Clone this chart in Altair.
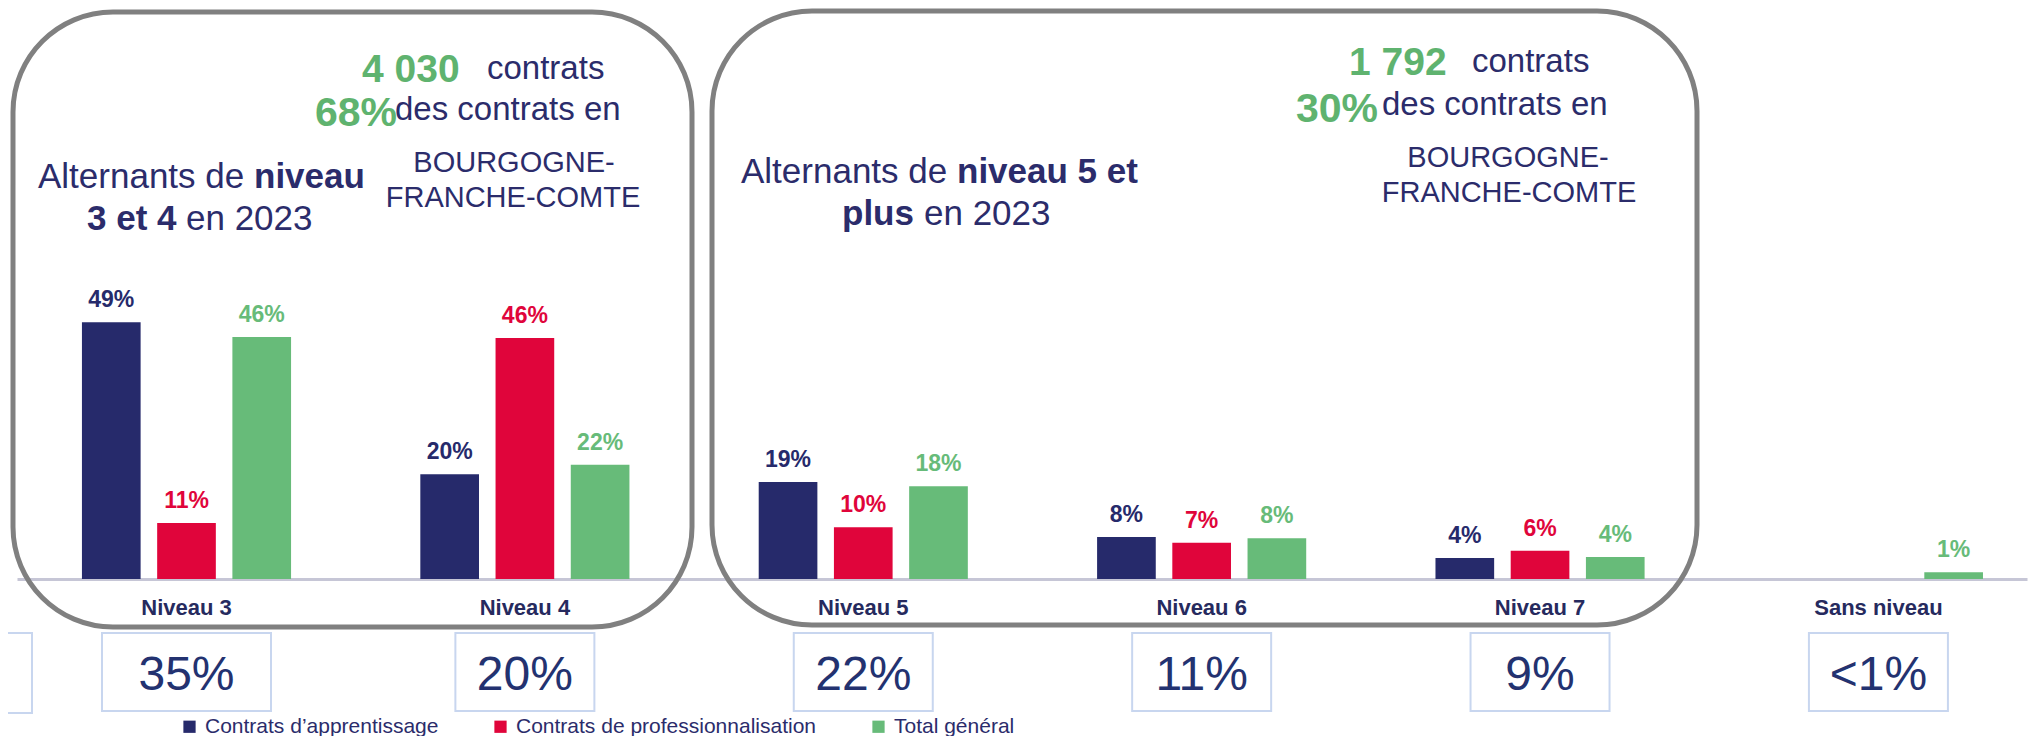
import altair as alt
import pandas as pd

# ---------------- data ----------------
categories = ["Niveau 3", "Niveau 4", "Niveau 5", "Niveau 6", "Niveau 7", "Sans niveau"]
series = ["Contrats d’apprentissage", "Contrats de professionnalisation", "Total général"]

apprentissage = [49.0, 20.0, 18.5, 8.0, 4.0, None]
professionnalisation = [10.7, 46.0, 9.9, 6.9, 5.4, None]
total_general = [46.2, 21.8, 17.7, 7.8, 4.2, 1.3]

labels_apprentissage = ["49%", "20%", "19%", "8%", "4%", ""]
labels_professionnalisation = ["11%", "46%", "10%", "7%", "6%", ""]
labels_total = ["46%", "22%", "18%", "8%", "4%", "1%"]

share_of_contracts = ["35%", "20%", "22%", "11%", "9%", "<1%"]

# ---------------- tables ----------------
rows = []
for s, vals, labs in zip(series,
                         [apprentissage, professionnalisation, total_general],
                         [labels_apprentissage, labels_professionnalisation, labels_total]):
    for c, v, l in zip(categories, vals, labs):
        rows.append({"cat": c, "series": s, "value": v, "label": l})
df = pd.DataFrame(rows)
share_df = pd.DataFrame({"cat": categories, "share": share_of_contracts})

# ---------------- styles ----------------
FONT = "Liberation Sans"
NAVY = "#2b2c6b"
GREEN_TXT = "#5fb36f"
bar_colors = ["#262a6b", "#e0053b", "#67bb79"]
W, H = 2010, 571

x_enc = alt.X(
    "cat:N", sort=categories,
    scale=alt.Scale(paddingInner=0.382, paddingOuter=0.161, align=0.596),
    axis=alt.Axis(title=None, labelAngle=0, ticks=False, tickSize=0, grid=False,
                  domainColor="#c6c6d6", domainWidth=3,
                  labelFont=FONT, labelFontSize=22, labelFontWeight="bold",
                  labelColor="#262a5e", labelPadding=18),
)
xoff_enc = alt.XOffset("series:N", sort=series,
                       scale=alt.Scale(domain=series, paddingInner=0.22, paddingOuter=0))
y_scale = alt.Scale(domain=[0, 109], nice=False, zero=True)
color_scale = alt.Scale(domain=series, range=bar_colors)

bars = alt.Chart(df).transform_filter("datum.value != null").mark_bar().encode(
    x=x_enc,
    xOffset=xoff_enc,
    y=alt.Y("value:Q", scale=y_scale, axis=None),
    color=alt.Color("series:N", sort=series, scale=color_scale,
                    legend=alt.Legend(title=None, orient="none", legendX=162, legendY=708,
                                      direction="horizontal", symbolType="square",
                                      symbolSize=150, symbolStrokeWidth=0,
                                      labelFont=FONT, labelFontSize=21, labelColor=NAVY,
                                      columnPadding=51, labelOffset=5, padding=0,
                                      labelLimit=0)),
)

value_labels = alt.Chart(df).transform_filter("datum.label != ''").mark_text(
    font=FONT, fontSize=23, fontWeight="bold", baseline="alphabetic", dy=-15
).encode(
    x=x_enc,
    xOffset=xoff_enc,
    y=alt.Y("value:Q", scale=y_scale, axis=None),
    text="label:N",
    color=alt.Color("series:N", sort=series, scale=color_scale, legend=None),
)

box_style = dict(fill="white", stroke="#c8d6ef", strokeWidth=2)
share_wide = alt.Chart(share_df).transform_filter(alt.datum.cat == "Niveau 3").mark_bar(
    width=169, **box_style).encode(x=x_enc, y=alt.value(625), y2=alt.value(703))
share_narrow = alt.Chart(share_df).transform_filter(alt.datum.cat != "Niveau 3").mark_bar(
    width=139, **box_style).encode(x=x_enc, y=alt.value(625), y2=alt.value(703))
share_text = alt.Chart(share_df).mark_text(
    font=FONT, fontSize=48, color="#233270", baseline="alphabetic"
).encode(x=x_enc, y=alt.value(682), text="share:N")

one = alt.Data(values=[{}])
partial_box = alt.Chart(one).mark_rect(**box_style).encode(
    x=alt.value(-60), x2=alt.value(15), y=alt.value(625), y2=alt.value(705))


def rbox(x1, x2, y1, y2):
    return alt.Chart(one).mark_rect(
        fill="white", fillOpacity=0, stroke="#808080", strokeWidth=5, cornerRadius=100
    ).encode(x=alt.value(x1), x2=alt.value(x2), y=alt.value(y1), y2=alt.value(y2))


def t(text, x, y, size, bold=False, color=NAVY, align="left"):
    return alt.Chart(one).mark_text(
        text=text, font=FONT, fontSize=size, fontWeight="bold" if bold else "normal",
        color=color, align=align, baseline="alphabetic"
    ).encode(x=alt.value(x), y=alt.value(y))


annotations = [
    # box 1
    t("4 030", 345, 74, 39, True, GREEN_TXT),
    t("contrats", 470, 71, 33),
    t("68%", 298, 118, 41, True, GREEN_TXT),
    t("des contrats en", 378, 112, 33),
    t("BOURGOGNE-", 497, 164, 29, align="center"),
    t("FRANCHE-COMTE", 496, 199, 29, align="center"),
    t("Alternants de", 21, 180, 35),
    t("niveau", 237, 180, 35, True),
    t("3 et 4", 70, 222, 35, True),
    t("en 2023", 169, 222, 35),
    # box 2
    t("1 792", 1332, 67, 39, True, GREEN_TXT),
    t("contrats", 1455, 64, 33),
    t("30%", 1279, 114, 41, True, GREEN_TXT),
    t("des contrats en", 1365, 107, 33),
    t("BOURGOGNE-", 1491, 159, 29, align="center"),
    t("FRANCHE-COMTE", 1492, 194, 29, align="center"),
    t("Alternants de", 724, 175, 35),
    t("niveau 5 et", 940, 175, 35, True),
    t("plus", 825, 217, 35, True),
    t("en 2023", 907, 217, 35),
]

chart = alt.layer(
    bars, value_labels, partial_box, share_wide, share_narrow, share_text,
    rbox(-4, 675, 4, 619), rbox(695, 1680, 3, 617),
    *annotations,
).properties(
    width=W, height=H,
    autosize=alt.AutoSizeParams(type="none"),
    padding={"left": 9, "top": 0, "right": 3, "bottom": 157},
    background="white",
).configure_view(stroke=None)

chart.save("out.html", embed_options={"renderer": "svg", "actions": False})
